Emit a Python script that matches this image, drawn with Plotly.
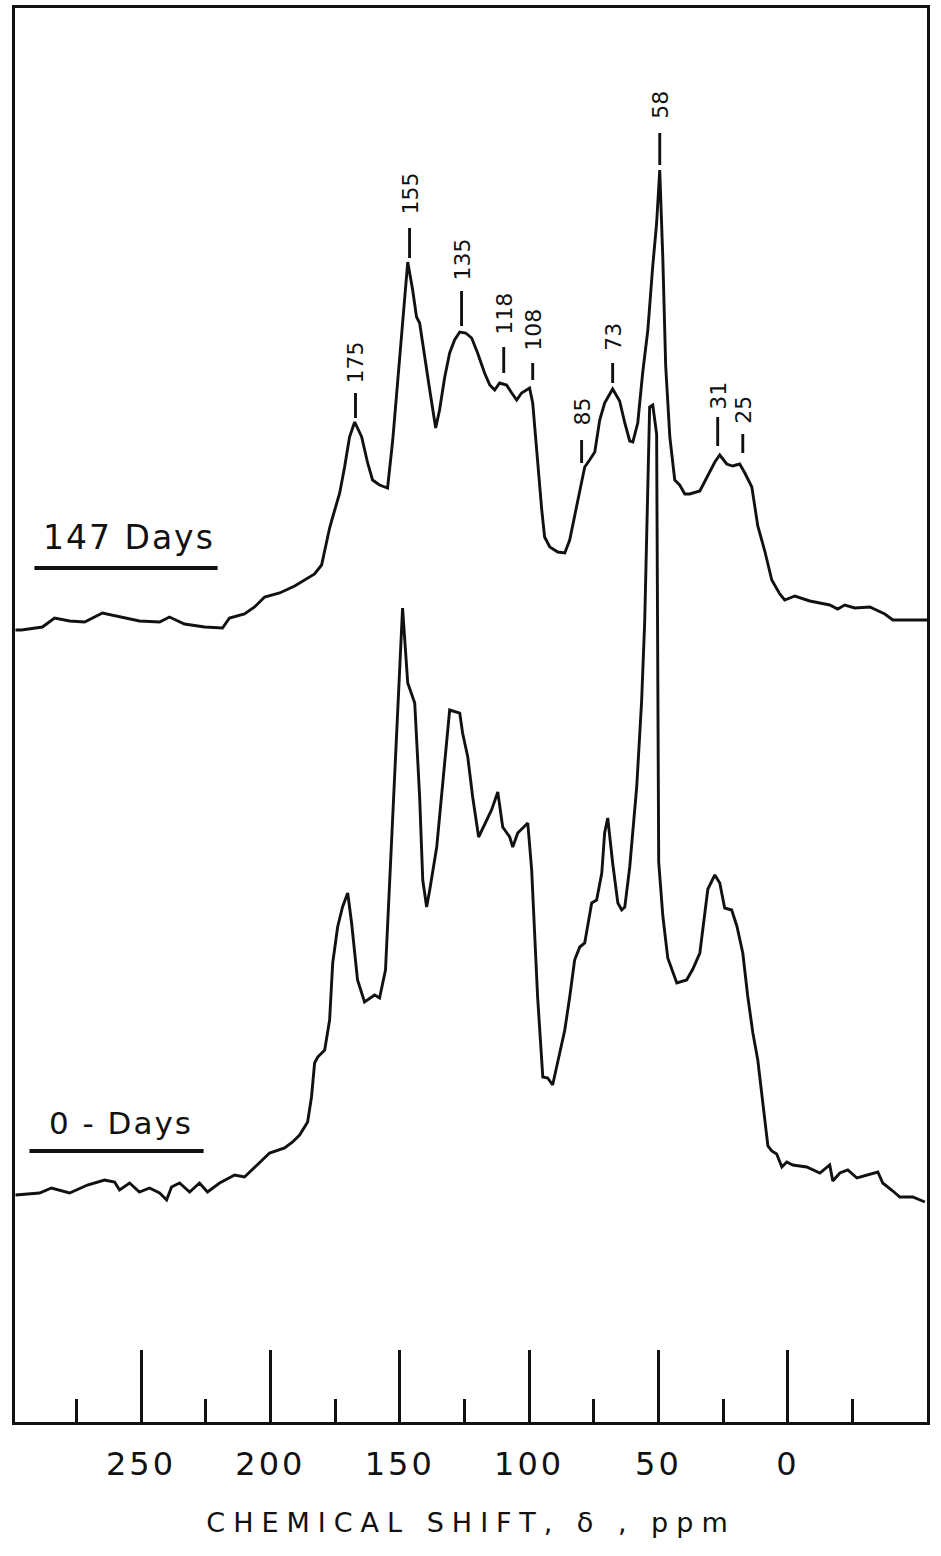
import plotly.graph_objects as go
import numpy as np

# ---------------- data ----------------
# 147-day spectrum: chemical shift (ppm) and intensity above its own baseline
ppm_147 = [298.5, 296.2, 288.1, 283.4, 277.6, 271.8, 264.9, 258.3, 250.6, 242.8, 239.0,
           233.2, 225.4, 218.5, 215.8, 210.0, 206.1, 202.2, 196.4, 190.6, 186.8, 182.9,
           180.2, 178.3, 177.1, 175.9, 173.2, 171.3, 169.4, 167.4, 164.7, 162.4, 160.5,
           157.8, 154.7, 152.7, 150.8, 148.9, 146.9, 145.0, 143.5, 142.3, 140.4, 138.4,
           136.1, 134.6, 132.6, 130.7, 128.8, 126.8, 124.5, 122.2, 119.9, 117.2, 115.2,
           113.3, 111.4, 108.7, 106.7, 104.8, 102.9, 99.8, 98.6, 97.1, 95.1, 94.0, 92.0,
           88.9, 86.2, 84.3, 82.4, 80.4, 78.5, 76.6, 74.6, 72.7, 70.8, 67.7, 65.0, 63.0,
           61.1, 59.9, 58.0, 56.1, 54.1, 52.2, 50.7, 49.5, 48.3, 47.2, 45.6, 43.7, 41.8,
           39.8, 37.9, 34.0, 30.9, 28.2, 26.3, 23.6, 21.3, 18.6, 16.6, 13.9, 11.6, 8.9,
           6.2, 3.1, 1.2, -2.7, -8.5, -16.2, -19.3, -22.0, -25.9, -31.7, -37.5, -40.6,
           -54.0]
int_147 = [-10, -10, -7, 2, -1, -2, 7, 3, -1, -2, 3,
           -4, -7, -8, 2, 6, 13, 23, 27, 34, 40, 46,
           55, 80, 92, 103, 127, 153, 183, 198, 183, 157, 140,
           135, 132, 180, 240, 300, 358, 330, 303, 297, 262, 230,
           192, 210, 243, 267, 280, 288, 287, 282, 267, 247, 235,
           230, 237, 235, 227, 220, 227, 232, 217, 170, 110, 83, 73,
           68, 67, 80, 103, 130, 153, 160, 168, 200, 217, 231, 219, 197,
           179, 178, 197, 247, 290, 354, 397, 450, 361, 254, 183, 140, 135,
           126, 126, 129, 144, 158, 165, 156, 154, 156, 147, 133, 94, 69,
           40, 26, 20, 24, 19, 15, 11, 15, 12, 13, 6, 0,
           0]

# 0-day spectrum
ppm_0 = [298.5, 289.2, 284.6, 277.6, 270.7, 264.1, 260.2, 258.3, 254.4, 250.6, 246.7,
         242.8, 240.1, 238.2, 235.1, 231.2, 227.4, 224.3, 219.6, 213.8, 210.0, 204.2,
         200.3, 194.5, 191.4, 188.7, 185.6, 184.1, 182.9, 181.7, 179.0, 177.1, 175.9,
         174.0, 172.1, 170.1, 168.6, 166.3, 163.6, 159.7, 157.8, 155.5, 153.9, 152.0,
         150.4, 148.9, 146.9, 144.2, 142.3, 141.1, 139.6, 138.4, 135.7, 133.4, 130.7,
         126.8, 125.7, 123.7, 121.8, 119.5, 117.2, 114.5, 112.1, 110.2, 107.5, 106.3,
         104.4, 100.5, 99.0, 97.8, 96.7, 94.7, 92.8, 90.9, 88.9, 86.2, 84.3, 82.4, 80.4,
         78.5, 75.8, 73.9, 71.9, 70.8, 69.6, 67.7, 65.7, 64.2, 63.0, 61.1, 58.4, 56.5,
         55.3, 53.4, 52.2, 50.7, 49.9, 48.3, 46.4, 42.9, 39.1, 36.7, 34.0, 32.1, 30.9,
         28.2, 26.3, 24.4, 21.7, 19.7, 17.4, 15.5, 13.5, 11.6, 9.7, 7.7, 6.2, 4.3, 2.3,
         0.4, -1.9, -7.3, -12.4, -16.2, -17.4, -20.1, -23.2, -26.7, -34.8, -36.7, -40.6,
         -43.3, -48.3, -53.0]
int_0 = [0, 2, 7, 2, 10, 15, 13, 5, 12, 3, 7,
         2, -5, 8, 12, 3, 12, 3, 12, 20, 18, 32,
         42, 47, 53, 60, 73, 98, 132, 138, 145, 175, 232,
         268, 288, 302, 272, 215, 193, 200, 197, 225, 315, 415,
         515, 587, 512, 492, 398, 315, 288, 305, 348, 408, 485,
         482, 462, 438, 398, 358, 370, 385, 403, 368, 358, 348,
         362, 372, 325, 265, 198, 118, 117, 110, 132, 165, 198, 235, 248,
         252, 292, 295, 322, 362, 377, 332, 292, 285, 288, 328, 408, 494,
         574, 788, 790, 761, 333, 279, 237, 212, 215, 226, 242, 279, 306,
         320, 312, 287, 285, 269, 242, 199, 162, 135, 92, 49, 44, 41, 28,
         33, 30, 28, 22, 30, 14, 22, 25, 17, 23, 12, 4,
         -2, -2, -7]

# vertical stacking offsets of the two traces (intensity units)
offset_147 = 802
offset_0 = 227

# peak labels on the 147-day trace
peak_labels = ["175", "155", "135", "118", "108", "85", "73", "58", "31", "25"]
peak_label_ppm = [167.1, 146.2, 126.1, 109.8, 98.6, 79.7, 67.7, 49.5, 27.1, 17.4]

# axis ticks
major_ticks = [250, 200, 150, 100, 50, 0]
major_tick_text = ["250", "200", "150", "100", "50", "0"]
minor_ticks = [275, 225, 175, 125, 75, 25, -25]

# ---------------- figure ----------------
INK = "#111111"
FONT = "DejaVu Sans"
LW = 2.9

fig = go.Figure()
fig.add_trace(go.Scatter(x=ppm_147, y=np.array(int_147) + offset_147, mode="lines",
                         line=dict(color=INK, width=LW), hoverinfo="skip",
                         showlegend=False))
fig.add_trace(go.Scatter(x=ppm_0, y=np.array(int_0) + offset_0, mode="lines",
                         line=dict(color=INK, width=LW), hoverinfo="skip",
                         showlegend=False))

# leader dashes (bottom, top above the 147 baseline) and label text bottoms
dash_lo = [202, 362, 294, 247, 240, 157, 237, 455, 174, 167]
dash_hi = [227, 392, 329, 273, 257, 180, 257, 487, 203, 186]
text_bottom = [235, 403, 337, 283, 267, 192, 267, 499, 208, 194]

for lab, xp, lo, hi, tb in zip(peak_labels, peak_label_ppm, dash_lo, dash_hi, text_bottom):
    fig.add_shape(type="line", xref="x", yref="y", x0=xp, x1=xp,
                  y0=lo + offset_147, y1=hi + offset_147,
                  line=dict(color=INK, width=LW))
    fig.add_annotation(x=xp, y=tb + offset_147, xref="x", yref="y", text=lab,
                       textangle=-90, showarrow=False, xanchor="center",
                       yanchor="bottom", font=dict(family=FONT, size=22, color=INK))

# sample labels with underline
fig.add_annotation(x=254.8, y=885, xref="x", yref="y", text="147 Days", showarrow=False,
                   xanchor="center", yanchor="middle",
                   font=dict(family=FONT, size=33, color=INK))
fig.add_shape(type="line", xref="x", yref="y", x0=291.2, x1=220.4, y0=854, y1=854,
              line=dict(color=INK, width=4))
fig.add_annotation(x=257.9, y=299, xref="x", yref="y", text="0 - Days", showarrow=False,
                   xanchor="center", yanchor="middle",
                   font=dict(family=FONT, size=31, color=INK))
fig.add_shape(type="line", xref="x", yref="y", x0=293.1, x1=225.8, y0=271, y1=271,
              line=dict(color=INK, width=4))

fig.update_layout(
    width=941, height=1556,
    margin=dict(l=15, r=14, t=8, b=134),
    paper_bgcolor="white", plot_bgcolor="white",
    showlegend=False,
    xaxis=dict(
        range=[298.7, -53.8], showgrid=False, zeroline=False,
        showline=True, mirror=True, linecolor=INK, linewidth=LW,
        tickmode="array", tickvals=major_ticks, ticktext=major_tick_text,
        ticks="inside", ticklen=72, tickwidth=LW, tickcolor=INK,
        ticklabelstandoff=12,
        tickfont=dict(family=FONT, size=32, color=INK),
        minor=dict(tickmode="array", tickvals=minor_ticks, ticks="inside",
                   ticklen=23, tickwidth=LW, tickcolor=INK, showgrid=False),
        title=dict(text="CHEMICAL SHIFT, δ , ppm", standoff=31,
                   font=dict(family=FONT, size=27, color=INK)),
        automargin=False,
    ),
    yaxis=dict(
        range=[0, 1414], showgrid=False, zeroline=False,
        showline=True, mirror=True, linecolor=INK, linewidth=LW,
        showticklabels=False, ticks="", automargin=False,
    ),
)

post = """
document.querySelectorAll('.xtitle').forEach(function(e){ e.style.letterSpacing = '8px'; });
document.querySelectorAll('.xtick text').forEach(function(e){ e.style.letterSpacing = '3px'; });
document.querySelectorAll('.annotation-text').forEach(function(e){
  if (e.textContent.indexOf('Days') >= 0) { e.style.letterSpacing = '2px'; }
});
"""
fig.write_html("out.html", post_script=post)
